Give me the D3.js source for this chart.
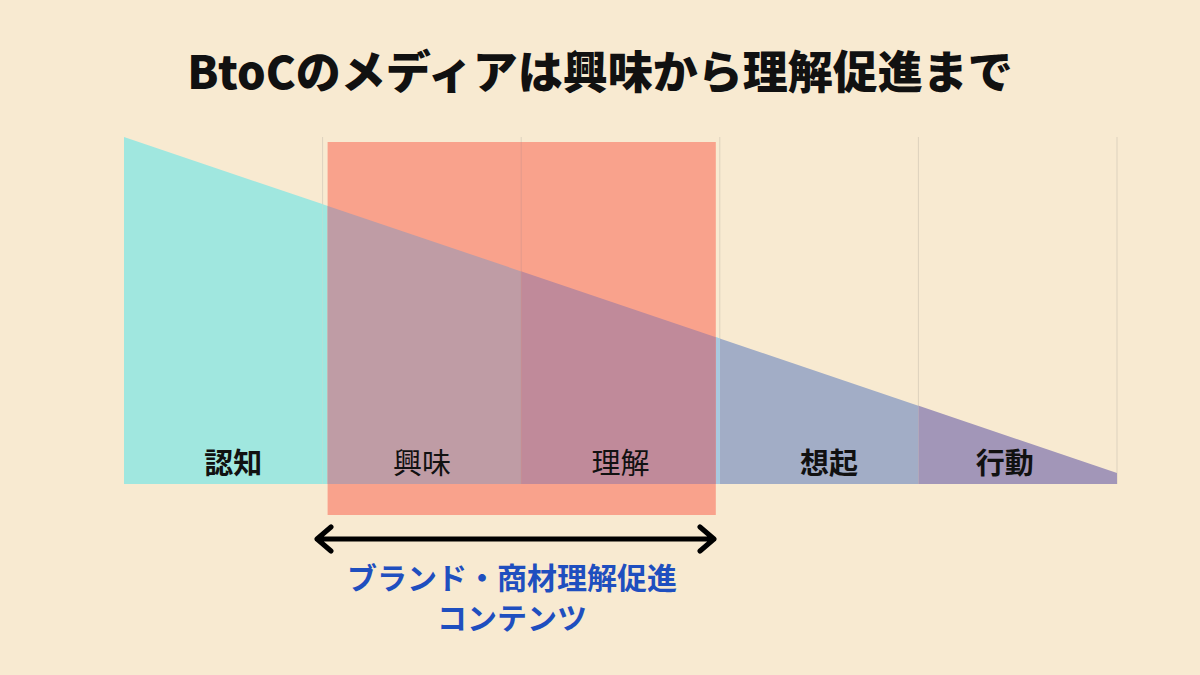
<!DOCTYPE html>
<html><head><meta charset="utf-8">
<script src="https://cdn.jsdelivr.net/npm/d3@7"></script>
<style>
body{margin:0;background:#f8ead1;}
text{font-family:"Noto Sans CJK JP","Noto Sans",sans-serif;}
</style></head>
<body><svg id="c" width="1200" height="675"></svg>
<script>
// funnel stages, left to right
const stages = ['認知', '興味', '理解', '想起', '行動'];
const stageBold = [true, false, false, true, true];
// relative funnel height at left edge (1) and right edge
const funnelStart = 1.0;
const funnelEnd = 0.032;
// column colours of the funnel, plain and where covered by the highlight
const funnelColors = ['#a0e7df', '#a0e7df', '#a0e7df', '#a2adc6', '#a296b8'];
const overlapColors = [null, '#bf9ca5', '#c08a9a', null, null];
// highlighted span (stage indices) and its caption
const spanFrom = 1, spanTo = 2;
const captionLines = ['ブランド・商材理解促進', 'コンテンツ'];
const title = 'BtoCのメディアは興味から理解促進まで';

const svg = d3.select('#c');
const x = d3.scaleBand().domain(stages).range([124, 1117]).paddingInner(0).paddingOuter(0);
const pos = d3.scaleLinear().domain([0, 1]).range([124, 1117]);
const y = d3.scaleLinear().domain([0, 1]).range([484, 137]);

const defs = svg.append('defs');
const funnelPath = d3.line()([[pos(0), y(funnelStart)], [pos(1), y(funnelEnd)], [pos(1), y(0)], [pos(0), y(0)]]) + 'Z';

// gridlines
svg.append('g').selectAll('line').data(stages.slice(1).concat(['end'])).join('line')
  .attr('x1', (d) => d === 'end' ? 1117 : x(d)).attr('x2', (d) => d === 'end' ? 1117 : x(d))
  .attr('y1', 137).attr('y2', 484).attr('stroke', '#ddd2be').attr('stroke-width', 1);

const rx0 = x(stages[spanFrom]) + 5, rx1 = x(stages[spanTo]) + x.bandwidth() - 4;
const ry0 = 142, ry1 = 515;

// funnel columns
stages.forEach((s, i) => {
  defs.append('clipPath').attr('id', 'col' + i).append('rect')
    .attr('x', x(s)).attr('y', 0).attr('width', x.bandwidth()).attr('height', 675);
  svg.append('path').attr('d', funnelPath).attr('fill', funnelColors[i]).attr('clip-path', `url(#col${i})`);
});
// light strip right of the highlight
defs.append('clipPath').attr('id', 'strip').append('rect').attr('x', rx1).attr('y', 0).attr('width', 4).attr('height', 675);
svg.append('path').attr('d', funnelPath).attr('fill', '#a9c8e0').attr('clip-path', 'url(#strip)');

// highlight block
svg.append('rect').attr('x', rx0).attr('y', ry0).attr('width', rx1 - rx0).attr('height', ry1 - ry0).attr('fill', '#f9a28c');
stages.forEach((s, i) => {
  if (!overlapColors[i]) return;
  const a = Math.max(x(s), rx0), b = Math.min(x(s) + x.bandwidth(), rx1);
  defs.append('clipPath').attr('id', 'ov' + i).append('rect').attr('x', a).attr('y', 0).attr('width', b - a).attr('height', 675);
  svg.append('path').attr('d', funnelPath).attr('fill', overlapColors[i]).attr('clip-path', `url(#ov${i})`);
});
svg.append('line').attr('x1', x(stages[2])).attr('x2', x(stages[2])).attr('y1', ry0).attr('y2', 484)
  .attr('stroke', '#b88a8a').attr('stroke-opacity', 0.35);

// stage labels (small nudges to match the original layout)
const nudge = { '認知': 10, '想起': 10, '行動': -13 };
svg.append('g').selectAll('text').data(stages).join('text')
  .attr('x', (d) => x(d) + x.bandwidth() / 2 + (nudge[d] || 0))
  .attr('y', 474).attr('text-anchor', 'middle')
  .attr('font-size', 29).attr('font-weight', (d, i) => stageBold[i] ? 700 : 400)
  .attr('fill', '#111').text((d) => d);

// title
svg.append('text').attr('x', 600).attr('y', 89).attr('text-anchor', 'middle')
  .attr('font-size', 45).attr('font-weight', 900).attr('fill', '#111').text(title);

// double arrow
const ay = 539, ax0 = 317, ax1 = 714;
svg.append('path')
  .attr('d', `M${ax0},${ay}H${ax1}M${ax0 + 14},${ay - 12}L${ax0},${ay}L${ax0 + 14},${ay + 12}M${ax1 - 14},${ay - 12}L${ax1},${ay}L${ax1 - 14},${ay + 12}`)
  .attr('fill', 'none').attr('stroke', '#000').attr('stroke-width', 5)
  .attr('stroke-linecap', 'round').attr('stroke-linejoin', 'round');

// caption
svg.append('g').selectAll('text').data(captionLines).join('text')
  .attr('x', 512).attr('y', (d, i) => 589 + i * 40).attr('text-anchor', 'middle')
  .attr('font-size', 30).attr('font-weight', 700).attr('fill', '#1f4fbf').text((d) => d);
</script></body></html>
